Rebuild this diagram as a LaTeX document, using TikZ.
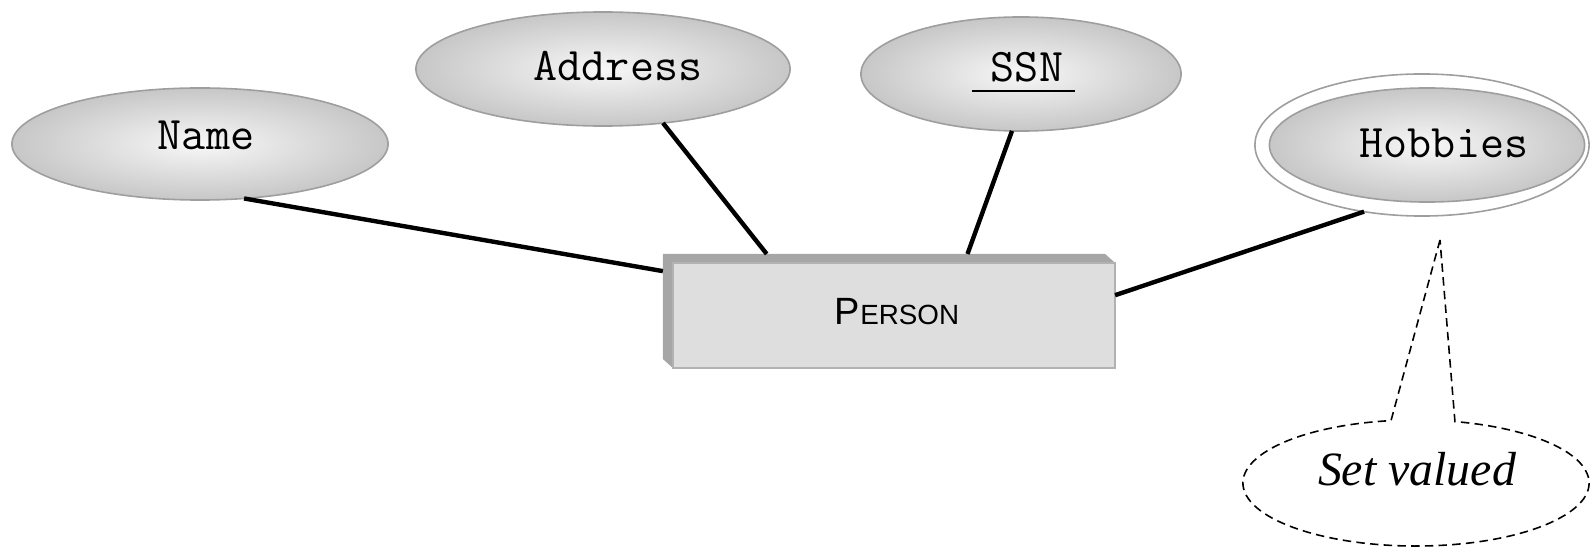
\documentclass[tikz,border=0pt]{standalone}
\usepackage{fontspec}
\newfontfamily\persfont{Liberation Sans}
\newfontfamily\callfont{Liberation Serif}
\usetikzlibrary{shapes.geometric,calc}
\begin{document}
\begin{tikzpicture}[x=0.01cm,y=0.01cm,
  attr/.style={ellipse, draw=black!38, line width=0.45pt, inner color=black!3, outer color=black!22, inner sep=0pt, outer sep=0pt},
  attrtext/.style={font=\ttfamily\fontsize{13.3}{15}\selectfont, anchor=base, inner sep=0pt},
  conn/.style={line width=1.25pt, black},
  callline/.style={dash pattern=on 2.4pt off 1.5pt, line width=0.45pt}]
\useasboundingbox (0,0) rectangle (1590,548);

% attributes
\node[attr, minimum width=3.76cm, minimum height=1.12cm] (name) at (200,404) {};
\node[attrtext] (name-t) at (206,398) {Name};

\node[attr, minimum width=3.74cm, minimum height=1.14cm] (addr) at (603,479) {};
\node[attrtext] (addr-t) at (618,467) {Address};

\node[attr, minimum width=3.20cm, minimum height=1.14cm] (ssn) at (1021,474) {};
\node[attrtext] (ssn-t) at (1027,466) {SSN};
\draw[line width=0.5pt] ($(ssn-t.base)+(-55,-9)$) -- ($(ssn-t.base)+(48,-9)$);

\node[ellipse, draw=black!38, fill=white, line width=0.45pt, inner sep=0pt, outer sep=0pt,
      minimum width=3.34cm, minimum height=1.42cm] (hobo) at (1422,403) {};
\node[attr, minimum width=3.15cm, minimum height=1.14cm] (hob) at (1427,403) {};
\node[attrtext] (hob-t) at (1444,390) {Hobbies};

% entity
\node[rectangle, minimum width=4.52cm, minimum height=1.14cm, inner sep=0pt, outer sep=0pt] (person) at (889,237) {};
\fill[black!35] ($(person.south west)+(10,0)$) -- ($(person.south west)+(0,9)$) -- (person.north west)
  -- ($(person.north east)+(-10,0)$) -- ($(person.north east)+(0,-9)$) -- ($(person.north west)+(10,-9)$) -- cycle;
\draw[draw=black!30, fill=black!13, line width=0.5pt] ($(person.south west)+(10,0)$) rectangle ($(person.north east)+(0,-9)$);
\node[font=\persfont\fontsize{10.8}{13}\selectfont, anchor=base, inner sep=0pt] (person-t) at (897,223)
  {P{\fontsize{7.9}{9}\selectfont ERSON}};

% connectors
\draw[conn] (name.-51.5) -- (person.170.2);
\draw[conn] (addr.-42) -- (person.155.7);
\draw[conn] (ssn.-99) -- (person.36.9);
\draw[conn] (hobo.-131.4) -- (person.4.55);

% callout
\coordinate (tip) at (1440,308);
\node[ellipse, minimum width=3.46cm, minimum height=1.26cm, inner sep=0pt] (setv) at (1416,65) {};
\draw[callline] (tip) -- ($(setv.center)+(98.3:1.73cm and 0.63cm)$)
  arc[start angle=98.3, end angle=437, x radius=1.73cm, y radius=0.63cm] -- cycle;
\node[font=\callfont\itshape\fontsize{13.6}{16}\selectfont, anchor=base, inner sep=0pt] (setv-t) at (1417,63) {Set valued};
\end{tikzpicture}
\end{document}
